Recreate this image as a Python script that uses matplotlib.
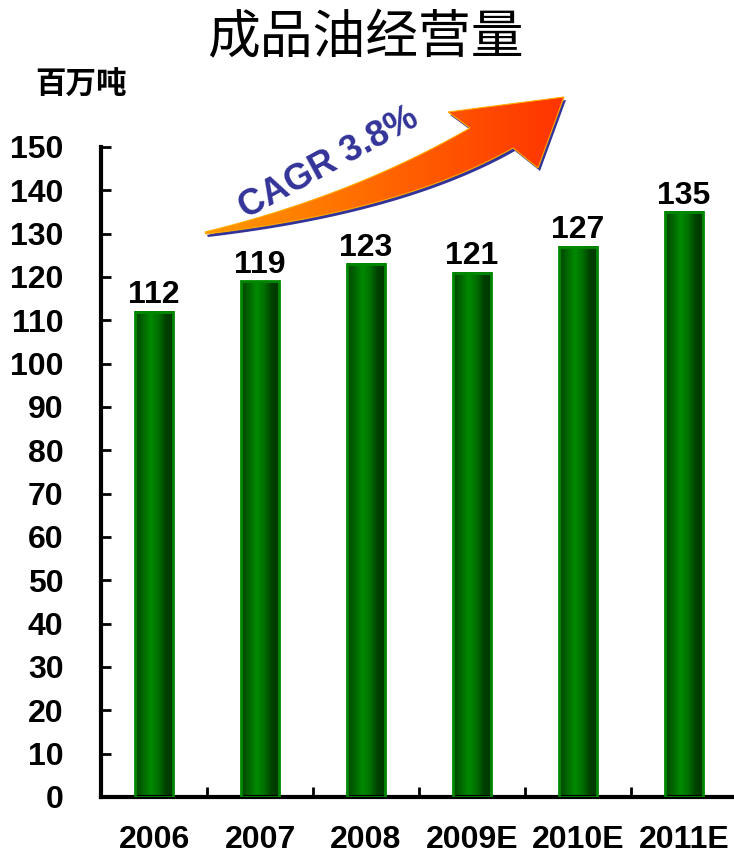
import numpy as np
import matplotlib
matplotlib.use("Agg")
import matplotlib.pyplot as plt
from matplotlib.colors import LinearSegmentedColormap
from matplotlib.patches import Polygon, Rectangle

# ==========================================================
# Data
# ==========================================================
years = ["2006", "2007", "2008", "2009E", "2010E", "2011E"]
volume = [112, 119, 123, 121, 127, 135]
yticks = list(range(0, 151, 10))

title = "成品油经营量"
unit = "百万吨"
cagr_text = "CAGR 3.8%"

plt.rcParams['font.family'] = ['Liberation Sans', 'Noto Sans CJK SC', 'DejaVu Sans']

# ==========================================================
# Figure
# ==========================================================
W, H = 734, 856
fig = plt.figure(figsize=(W / 100, H / 100), dpi=100)
ax = fig.add_axes([101 / W, 59 / H, 636 / W, 650 / H])

bar_cmap = LinearSegmentedColormap.from_list(
    "bar", ["#004400", "#006600", "#008a00", "#007000", "#004000", "#003800"])
grad = np.linspace(0, 1, 64).reshape(1, -1)
bw = 0.36

x = np.arange(len(years))
for xi, v in zip(x, volume):
    ax.imshow(grad, extent=(xi - bw / 2, xi + bw / 2, 0, v), cmap=bar_cmap,
              aspect='auto', zorder=2, interpolation='bilinear')
    ax.add_patch(Rectangle((xi - bw / 2, 0), bw, v, fill=False,
                           edgecolor='#008800', linewidth=2.0, zorder=3))
    ax.annotate(str(v), (xi, v), xytext=(0, 6), textcoords='offset points',
                ha='center', va='baseline', fontsize=23, fontweight='bold',
                zorder=4)

ax.set_xlim(-0.5, len(years) - 0.5)
ax.set_ylim(0, 150)

ax.set_yticks(yticks)
ax.set_yticklabels([str(t) for t in yticks])
ax.set_xticks(x)
ax.set_xticklabels(years)
ax.set_xticks(np.arange(0.5, len(years) - 0.5, 1), minor=True)

ax.tick_params(axis='y', direction='in', length=7, width=2, pad=27,
               labelsize=23)
ax.tick_params(axis='x', which='major', length=0, pad=20, labelsize=23)
ax.tick_params(axis='x', which='minor', direction='in', length=7, width=2)
for lab in ax.get_xticklabels() + ax.get_yticklabels():
    lab.set_fontweight('bold')

for s in ['top', 'right']:
    ax.spines[s].set_visible(False)
for s in ['left', 'bottom']:
    ax.spines[s].set_linewidth(3)

# ==========================================================
# Overlay in pixel coordinates: title, unit, CAGR arrow
# ==========================================================
ov = fig.add_axes([0, 0, 1, 1], facecolor='none')
ov.set_xlim(0, W)
ov.set_ylim(H, 0)
ov.axis('off')

ov.text(365, 38, title, ha='center', va='center', fontsize=38,
        family=['Noto Sans CJK SC'])
ov.text(81, 85, unit, ha='center', va='center', fontsize=22,
        fontweight='bold', family=['Noto Sans CJK SC'])


def bez(p0, c, p1, n=40):
    t = np.linspace(0, 1, n)[:, None]
    p0, c, p1 = map(np.array, (p0, c, p1))
    return (1 - t) ** 2 * p0 + 2 * (1 - t) * t * c + t ** 2 * p1


upper = bez((205, 232), (352, 196), (470, 128))
lower = bez((513, 148), (402, 211), (206, 234))
head = np.array([(448, 112), (564, 97), (538, 168)])
arrow = np.vstack([upper, head, lower])

shadow = Polygon(arrow + np.array([2, 3]), closed=True, facecolor='#333399',
                 edgecolor='none', zorder=1)
ov.add_patch(shadow)

clip = Polygon(arrow, closed=True, facecolor='none', edgecolor='#ffaa00',
               linewidth=0.8, zorder=3)
ov.add_patch(clip)
arrow_cmap = LinearSegmentedColormap.from_list("arr", ["#ff9900", "#ff3300"])
img = ov.imshow(np.linspace(0, 1, 128).reshape(1, -1), cmap=arrow_cmap,
                extent=(205, 566, 240, 95), aspect='auto', zorder=2,
                interpolation='bilinear')
img.set_clip_path(clip)
ov.set_xlim(0, W)
ov.set_ylim(H, 0)

ov.text(329, 163, cagr_text, rotation=28.5, rotation_mode='anchor',
        ha='center', va='center', fontsize=26, fontweight='bold',
        color='#333399', zorder=4)

fig.savefig("out.png", dpi=100)
